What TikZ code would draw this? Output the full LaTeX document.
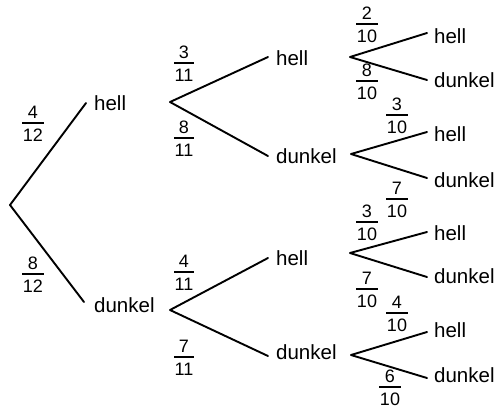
\documentclass[tikz,border=0pt]{standalone}
\usepackage{fontspec}
\setmainfont{Liberation Sans}
\newcommand{\fr}[2]{{\renewcommand{\arraystretch}{0}\begin{tabular}{@{\hspace{0.5pt}}c@{\hspace{0.5pt}}}\rule[-3.5pt]{0pt}{16.5pt}#1\\\hline\rule{0pt}{17.5pt}#2\end{tabular}}}
\setlength{\arrayrulewidth}{1.5pt}
\tikzset{
  lbl/.style={anchor=base west, inner sep=0pt, font=\fontsize{20.5}{24}\selectfont},
  frc/.style={anchor=center, inner sep=0pt, yshift=-0.5pt, font=\fontsize{18}{21.6}\selectfont},
  br/.style={line width=1.9pt, line cap=round, line join=round}
}
\begin{document}
\begin{tikzpicture}[x=1pt, y=-1pt]
\useasboundingbox (0,0) rectangle (501,408);
% coordinates of branch points
\coordinate (r) at (10,205);
\coordinate (e1) at (86,103);
\coordinate (e2) at (84,302);
\coordinate (j1) at (170,102);
\coordinate (j2) at (170,310);
\coordinate (e11) at (268,57);
\coordinate (e12) at (268,156);
\coordinate (e21) at (268,258);
\coordinate (e22) at (268,356);
\coordinate (j11) at (350,57);
\coordinate (j12) at (351,154);
\coordinate (j21) at (350,253);
\coordinate (j22) at (351,355);
\coordinate (f111) at (427,33);
\coordinate (f112) at (427,80);
\coordinate (f121) at (427,132);
\coordinate (f122) at (427,178);
\coordinate (f211) at (427,232);
\coordinate (f212) at (427,277);
\coordinate (f221) at (427,332);
\coordinate (f222) at (427,378);
% branches
\draw[br] (e1) -- (r) -- (e2);
\draw[br] (e11) -- (j1) -- (e12);
\draw[br] (e21) -- (j2) -- (e22);
\draw[br] (f111) -- (j11) -- (f112);
\draw[br] (f121) -- (j12) -- (f122);
\draw[br] (f211) -- (j21) -- (f212);
\draw[br] (f221) -- (j22) -- (f222);
% labels level 1
\node[lbl] (t1) at (94,110) {hell};
\node[lbl] (t2) at (94,312) {dunkel};
% level 2
\node[lbl] (t11) at (276,65) {hell};
\node[lbl] (t12) at (276,163) {dunkel};
\node[lbl] (t21) at (276,265) {hell};
\node[lbl] (t22) at (276,359) {dunkel};
% level 3
\node[lbl] (t111) at (434,43) {hell};
\node[lbl] (t112) at (434,87) {dunkel};
\node[lbl] (t121) at (434,141) {hell};
\node[lbl] (t122) at (434,187) {dunkel};
\node[lbl] (t211) at (434,240) {hell};
\node[lbl] (t212) at (434,283) {dunkel};
\node[lbl] (t221) at (434,337) {hell};
\node[lbl] (t222) at (434,382) {dunkel};
% fractions
\node[frc] (p1) at (33,123) {\fr{4}{12}};
\node[frc] (p2) at (33,274) {\fr{8}{12}};
\node[frc] (p11) at (184,63) {\fr{3}{11}};
\node[frc] (p12) at (184,138) {\fr{8}{11}};
\node[frc] (p21) at (184,272) {\fr{4}{11}};
\node[frc] (p22) at (184,357) {\fr{7}{11}};
\node[frc] (p111) at (367,24) {\fr{2}{10}};
\node[frc] (p112) at (367,81) {\fr{8}{10}};
\node[frc] (p121) at (397,115) {\fr{3}{10}};
\node[frc] (p122) at (397,199) {\fr{7}{10}};
\node[frc] (p211) at (367,222) {\fr{3}{10}};
\node[frc] (p212) at (367,289) {\fr{7}{10}};
\node[frc] (p221) at (397,313) {\fr{4}{10}};
\node[frc] (p222) at (390,387) {\fr{6}{10}};
\end{tikzpicture}
\end{document}
